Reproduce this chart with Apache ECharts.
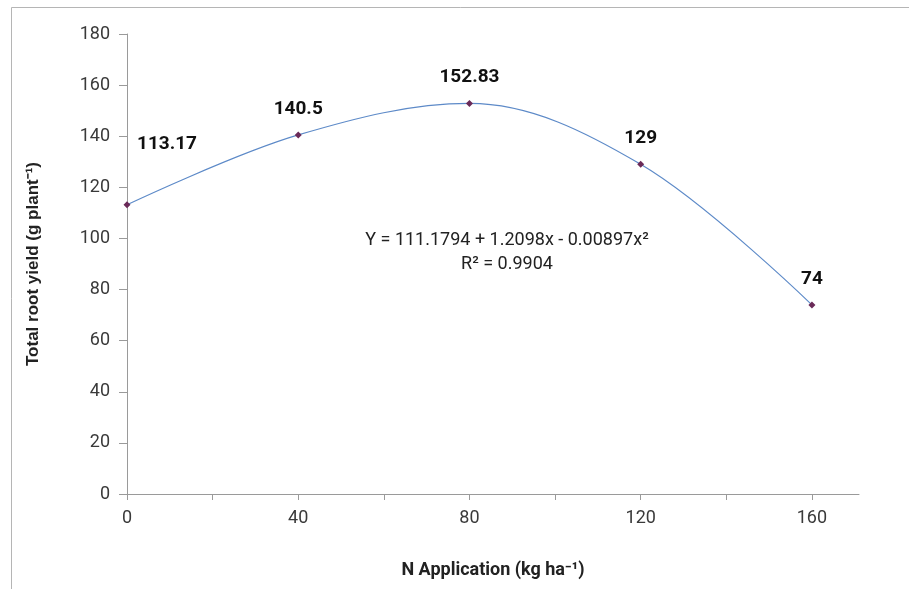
<!DOCTYPE html>
<html>
<head>
<meta charset="utf-8">
<script src="https://cdn.jsdelivr.net/npm/echarts@6/dist/echarts.min.js"></script>
<style>
  html, body { margin: 0; padding: 0; background: #fff; }
  #main { width: 909px; height: 589px; }
</style>
</head>
<body>
<div id="main"></div>
<script>
// N application rates (kg/ha) and total root yield (g/plant)
var nRates = [0, 40, 80, 120, 160];
var rootYield = [113.17, 140.5, 152.83, 129, 74];
var xTickValues = [0, 20, 40, 60, 80, 100, 120, 140, 160];
var xLabelValues = [0, 40, 80, 120, 160];
var equationText = 'Y = 111.1794 + 1.2098x - 0.00897x²';
var r2Text = 'R² = 0.9904';

var chart = echarts.init(document.getElementById('main'));

var points = nRates.map(function (x, i) {
  var item = { value: [x, rootYield[i]] };
  // first label sits off to the right in the original
  if (i === 0) item.label = { offset: [40, -35] };
  return item;
});

var option = {
  backgroundColor: '#fff',
  animation: false,
  grid: { left: 127, right: 50, top: 34, bottom: 95 },
  xAxis: {
    type: 'value',
    min: 0,
    max: 171,
    interval: 20,
    name: 'N Application (kg ha⁻¹)',
    nameLocation: 'middle',
    nameGap: 67,
    nameTextStyle: { fontFamily: 'Roboto', fontWeight: 'bold', fontSize: 18, color: '#222' },
    axisLine: { lineStyle: { color: '#9a9a9a', width: 1 } },
    axisTick: { length: 6, lineStyle: { color: '#9a9a9a' }, customValues: xTickValues },
    axisLabel: { fontFamily: 'Roboto', fontSize: 18, color: '#3a3a3a', margin: 15, customValues: xLabelValues },
    splitLine: { show: false }
  },
  yAxis: {
    type: 'value',
    min: 0,
    max: 180,
    interval: 20,
    name: 'Total root yield (g plant⁻¹)',
    nameLocation: 'middle',
    nameGap: 85,
    nameRotate: 90,
    nameTextStyle: { fontFamily: 'Liberation Sans', fontWeight: 'bold', fontSize: 17, color: '#222' },
    axisLine: { show: true, lineStyle: { color: '#9a9a9a', width: 1 } },
    axisTick: { show: true, length: 8, lineStyle: { color: '#9a9a9a' } },
    axisLabel: { fontFamily: 'Roboto', fontSize: 18, color: '#3a3a3a', margin: 17 },
    splitLine: { show: false }
  },
  series: [{
    type: 'line',
    data: points,
    smooth: 0.35,
    symbol: 'diamond',
    symbolSize: 7,
    itemStyle: { color: '#6a2a58' },
    lineStyle: { color: '#5d8ac8', width: 1.2 },
    label: {
      show: true,
      position: 'top',
      distance: 13,
      fontFamily: 'Roboto',
      fontWeight: 'bold',
      fontSize: 19,
      color: '#111',
      formatter: function (p) { return String(p.value[1]); }
    }
  }],
  graphic: [
    {
      type: 'rect',
      left: 9, top: 5,
      shape: { width: 940, height: 620 },
      style: { fill: 'none', stroke: '#b5b5b5', lineWidth: 1 },
      silent: true
    },
    {
      type: 'text',
      x: 507, y: 240,
      style: {
        text: equationText, align: 'center', verticalAlign: 'middle',
        fontFamily: 'Roboto', fontSize: 18, fill: '#222'
      }
    },
    {
      type: 'text',
      x: 507, y: 264,
      style: {
        text: r2Text, align: 'center', verticalAlign: 'middle',
        fontFamily: 'Roboto', fontSize: 18, fill: '#222'
      }
    }
  ]
};

chart.setOption(option);
</script>
</body>
</html>
